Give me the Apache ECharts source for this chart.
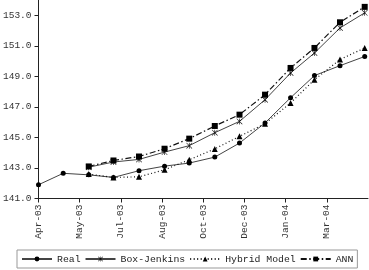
<!DOCTYPE html>
<html><head><meta charset="utf-8">
<script src="https://cdn.jsdelivr.net/npm/echarts@6/dist/echarts.min.js"></script>
<style>html,body{margin:0;padding:0;background:#fff}#c{width:369px;height:270px}</style>
</head><body><div id="c"></div>
<script>
// Monthly observation dates
const months = ['2003-04-01','2003-05-01','2003-06-01','2003-07-01','2003-08-01','2003-09-01','2003-10-01','2003-11-01','2003-12-01','2004-01-01','2004-02-01','2004-03-01','2004-04-01','2004-05-01'];
const realValues = [141.9, 142.65, 142.55, 142.38, 142.82, 143.12, 143.32, 143.71, 144.63, 145.95, 147.6, 149.05, 149.7, 150.3];
const boxJenkins = [null, null, 143.05, 143.39, 143.56, 144.04, 144.46, 145.31, 146.05, 147.47, 149.22, 150.53, 152.17, 153.16];
const hybridModel = [null, null, 142.6, 142.38, 142.42, 142.88, 143.54, 144.25, 145.07, 145.9, 147.26, 148.78, 150.1, 150.86];
const annValues = [null, null, 143.1, 143.49, 143.75, 144.26, 144.92, 145.75, 146.49, 147.8, 149.55, 150.86, 152.54, 153.55];
// X tick labels every 50 days from 1 Apr 2003
const xTickDays = [0, 50, 100, 150, 200, 250, 300, 350];
const xTickLabels = ['Apr-03','May-03','Jul-03','Aug-03','Oct-03','Dec-03','Jan-04','Mar-04'];
const yTicks = [141, 143, 145, 147, 149, 151, 153];

const base = Date.UTC(2003, 3, 1);
const dayOf = s => { const p = s.split('-'); return Math.round((Date.UTC(+p[0], +p[1]-1, +p[2]) - base) / 86400000); };
const xs = months.map(dayOf);
const pairs = vals => vals.map((v, i) => v == null ? null : [xs[i], v]).filter(p => p);

const FONT = 'Liberation Mono';
const star = 'path://M4.5,0L5.5,0L5.5,10L4.5,10Z M0,0.7L0.7,0L10,9.3L9.3,10Z M10,0.7L9.3,0L0,9.3L0.7,10Z';

const chart = echarts.init(document.getElementById('c'), null, {renderer: 'canvas'});
chart.setOption({
  animation: false,
  backgroundColor: '#fff',
  grid: {left: 36, right: 1, top: 0, bottom: 71.5, containLabel: false},
  xAxis: {
    type: 'value', min: 0, max: 400,
    axisLine: {lineStyle: {color: '#222', width: 1}},
    axisTick: {show: true, length: 4, customValues: xTickDays, lineStyle: {color: '#222'}},
    axisLabel: {customValues: xTickDays, rotate: 90, fontFamily: FONT, fontSize: 9.5, color: '#333', margin: 6,
      formatter: v => xTickLabels[xTickDays.indexOf(v)] || ''},
    splitLine: {show: false}
  },
  yAxis: {
    type: 'value', min: 141, max: 154,
    axisLine: {show: true, lineStyle: {color: '#222', width: 1}},
    axisTick: {show: true, length: 4, customValues: yTicks, lineStyle: {color: '#222'}},
    axisLabel: {customValues: yTicks, fontFamily: FONT, fontSize: 9.5, color: '#333', margin: 7,
      formatter: v => v.toFixed(1)},
    splitLine: {show: false}
  },
  legend: {
    bottom: 2, left: 17, right: 12,
    itemWidth: 30, itemHeight: 6, itemGap: 4,
    padding: [4, 4, 4, 4],
    borderColor: '#999', borderWidth: 1,
    textStyle: {fontFamily: FONT, fontSize: 9.8, color: '#222'},
    data: ['Real', 'Box-Jenkins', 'Hybrid Model', 'ANN']
  },
  series: [
    {name: 'Real', type: 'line', data: pairs(realValues), symbol: 'circle', symbolSize: 5,
      itemStyle: {color: '#000'}, lineStyle: {color: '#444', width: 1}},
    {name: 'Box-Jenkins', type: 'line', data: pairs(boxJenkins), symbol: star, symbolSize: 6,
      itemStyle: {color: '#000'}, lineStyle: {color: '#444', width: 1}},
    {name: 'Hybrid Model', type: 'line', data: pairs(hybridModel), symbol: 'triangle', symbolSize: 6,
      itemStyle: {color: '#000'}, lineStyle: {color: '#111', width: 1.2, type: [1, 2.5]}},
    {name: 'ANN', type: 'line', data: pairs(annValues), symbol: 'rect', symbolSize: 6,
      itemStyle: {color: '#000'}, lineStyle: {color: '#111', width: 1.2, type: [6, 2.5, 1.5, 2.5]}}
  ]
});
</script></body></html>
